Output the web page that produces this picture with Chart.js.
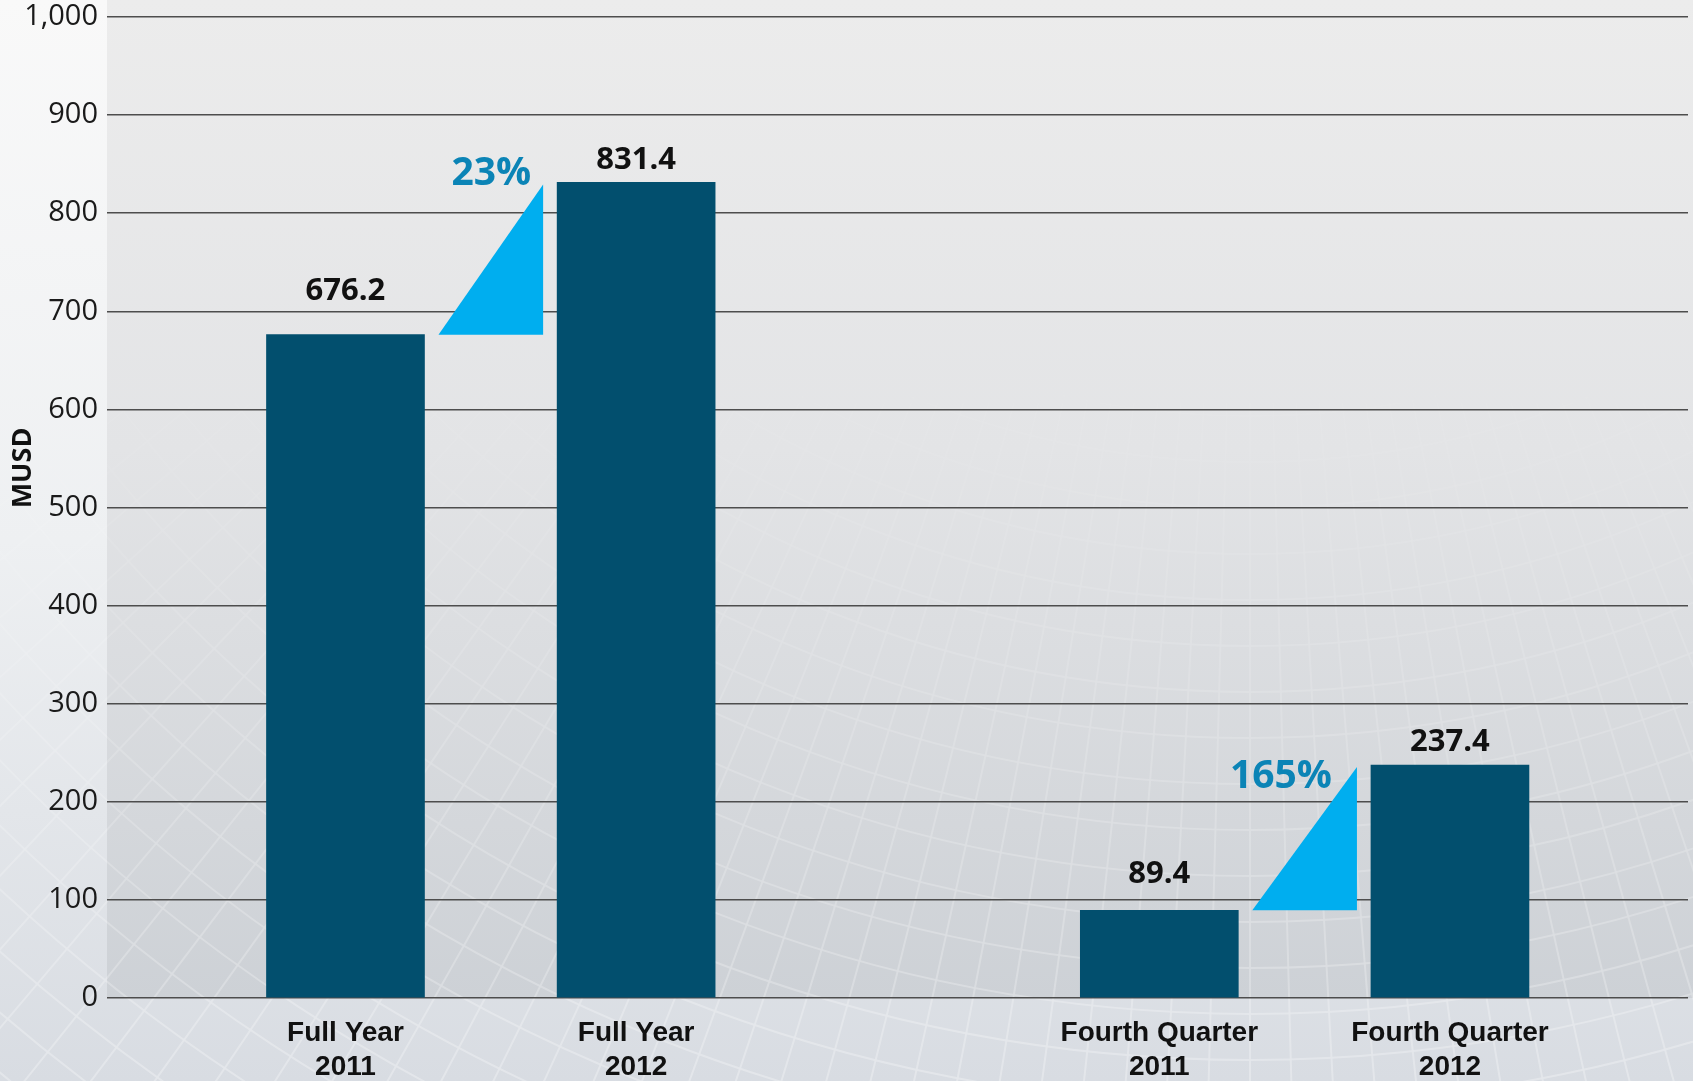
<!DOCTYPE html>
<html>
<head>
<meta charset="utf-8">
<title>Revenue MUSD</title>
<script src="https://cdn.jsdelivr.net/npm/chart.js@4.4.1/dist/chart.umd.min.js"></script>
<style>
  html, body { margin: 0; padding: 0; background: #e4e6e9; }
  canvas { display: block; }
</style>
</head>
<body>
<canvas id="revenueChart" width="1693" height="1081"></canvas>
<script>
// Revenue, MUSD
const categories = [['Full Year', '2011'], ['Full Year', '2012'], ['Fourth Quarter', '2011'], ['Fourth Quarter', '2012']];
const revenue = [676.2, 831.4, 89.4, 237.4];
const yTicks = [0, 100, 200, 300, 400, 500, 600, 700, 800, 900, 1000];

// growth markers between each pair of bars
const changePairs = [[0, 1], [2, 3]];
const changeLabels = ['23%', '165%'];

// layout bits
const slots = [0, 1, 2.8, 3.8];               // bar centres on the x axis, gap between the two pairs
const valueGap = [35, 13, 27, 14];            // value label baseline above bar top
const changeShift = [[-12, 1], [-25, 21]];    // growth label offset from triangle tip

Chart.defaults.font.family = "'Open Sans', sans-serif";

function drawMesh(ctx, w, h) {
    const off = document.createElement('canvas');
    off.width = w;
    off.height = h;
    const m = off.getContext('2d');
    m.strokeStyle = 'rgba(255,255,255,0.9)';
    m.lineWidth = 2;
    const cx = 1250, cy = -450;
    for (let r = 820; r < 2300; r += 46) {
        m.beginPath();
        m.arc(cx, cy, r, 0.12 * Math.PI, 0.88 * Math.PI);
        m.stroke();
    }
    for (let k = -34; k <= 34; k++) {
        const ang = Math.PI / 2 + k * 0.027;
        m.beginPath();
        m.moveTo(cx + Math.cos(ang) * 700, cy + Math.sin(ang) * 700);
        m.lineTo(cx + Math.cos(ang) * 2500, cy + Math.sin(ang) * 2500);
        m.stroke();
    }
    // fade the mesh out toward the top
    m.globalCompositeOperation = 'destination-in';
    const g = m.createLinearGradient(0, 0, 0, h);
    g.addColorStop(0, 'rgba(0,0,0,0)');
    g.addColorStop(0.35, 'rgba(0,0,0,0.03)');
    g.addColorStop(0.65, 'rgba(0,0,0,0.16)');
    g.addColorStop(1, 'rgba(0,0,0,0.32)');
    m.fillStyle = g;
    m.fillRect(0, 0, w, h);
    ctx.drawImage(off, 0, 0);
}

const backdrop = {
    id: 'backdrop',
    beforeDraw(chart) {
        const {ctx, width, height, chartArea: a} = chart;
        ctx.save();
        let g = ctx.createLinearGradient(0, 0, 0, height);
        g.addColorStop(0, '#f9f9f9');
        g.addColorStop(0.5, '#eef0f2');
        g.addColorStop(1, '#d8dce2');
        ctx.fillStyle = g;
        ctx.fillRect(0, 0, width, height);

        // grey panel behind the plot
        g = ctx.createLinearGradient(0, 0, 0, a.bottom);
        g.addColorStop(0, '#ececec');
        g.addColorStop(0.45, '#e3e4e6');
        g.addColorStop(1, '#cdd1d6');
        ctx.fillStyle = g;
        ctx.fillRect(a.left, 0, width - a.left, a.bottom);

        drawMesh(ctx, width, height);
        ctx.restore();
    }
};

const annotations = {
    id: 'annotations',
    afterDatasetsDraw(chart) {
        const {ctx, scales: {y}} = chart;
        const bars = chart.getDatasetMeta(0).data;
        ctx.save();

        changePairs.forEach(([from, to], i) => {
            const a = bars[from], b = bars[to];
            const x0 = a.x + a.width / 2 + 14;
            const x1 = b.x - b.width / 2 - 14;
            const yBase = y.getPixelForValue(revenue[from]);
            const yTip = y.getPixelForValue(revenue[to]) + 2;
            ctx.fillStyle = '#00aeef';
            ctx.beginPath();
            ctx.moveTo(x0, yBase);
            ctx.lineTo(x1, yBase);
            ctx.lineTo(x1, yTip);
            ctx.closePath();
            ctx.fill();

            ctx.font = "bold 39px 'Open Sans'";
            ctx.fillStyle = '#0b84b6';
            ctx.textAlign = 'right';
            ctx.textBaseline = 'alphabetic';
            ctx.fillText(changeLabels[i], x1 + changeShift[i][0], yTip + changeShift[i][1]);
        });

        ctx.font = "bold 31px 'Open Sans'";
        ctx.fillStyle = '#111';
        ctx.textAlign = 'center';
        ctx.textBaseline = 'alphabetic';
        bars.forEach((bar, i) => {
            ctx.fillText(revenue[i].toFixed(1), bar.x, bar.y - valueGap[i]);
        });
        ctx.restore();
    },
    afterDraw(chart) {
        const {ctx} = chart;
        ctx.save();
        ctx.translate(23, 468);
        ctx.rotate(-Math.PI / 2);
        ctx.font = "bold 27px 'Open Sans'";
        ctx.fillStyle = '#111';
        ctx.textAlign = 'center';
        ctx.textBaseline = 'middle';
        ctx.fillText('MUSD', 0, 0);
        ctx.restore();
    }
};

const revenueCtx = document.getElementById('revenueChart').getContext('2d');
const revenueChart = new Chart(revenueCtx, {
    type: 'bar',
    data: {
        datasets: [{
            data: revenue.map((v, i) => ({x: slots[i], y: v})),
            backgroundColor: '#024f6e',
            borderWidth: 0,
            barThickness: 158
        }]
    },
    options: {
        responsive: false,
        animation: false,
        devicePixelRatio: 1,
        layout: {
            padding: {top: 17, right: 5, bottom: 0, left: 0}
        },
        plugins: {
            legend: {display: false},
            tooltip: {enabled: false}
        },
        scales: {
            x: {
                type: 'linear',
                offset: false,
                min: -0.8205,
                max: 4.619,
                grid: {display: false},
                border: {display: false},
                afterBuildTicks: scale => {
                    scale.ticks = slots.map(v => ({value: v}));
                },
                afterFit: scale => {
                    scale.height = 83;
                    scale.paddingLeft = 0;
                    scale.paddingRight = 0;
                },
                ticks: {
                    autoSkip: false,
                    maxRotation: 0,
                    padding: 11,
                    color: '#111',
                    font: {family: "'Liberation Sans', Arial, sans-serif", weight: 'bold', size: 28, lineHeight: 1.19},
                    callback: (value, index) => categories[index]
                }
            },
            y: {
                min: 0,
                max: 1000,
                afterBuildTicks: scale => {
                    scale.ticks = yTicks.map(v => ({value: v}));
                },
                afterFit: scale => {
                    scale.width = 107;
                    scale.paddingTop = 0;
                    scale.paddingBottom = 0;
                },
                grid: {color: '#4d4d4d', lineWidth: 1.5, drawTicks: false},
                border: {display: false},
                ticks: {
                    padding: 9,
                    labelOffset: 0,
                    color: '#1a1a1a',
                    font: {size: 29},
                    callback: value => value.toLocaleString('en-US')
                }
            }
        }
    },
    plugins: [backdrop, annotations]
});
</script>
</body>
</html>
